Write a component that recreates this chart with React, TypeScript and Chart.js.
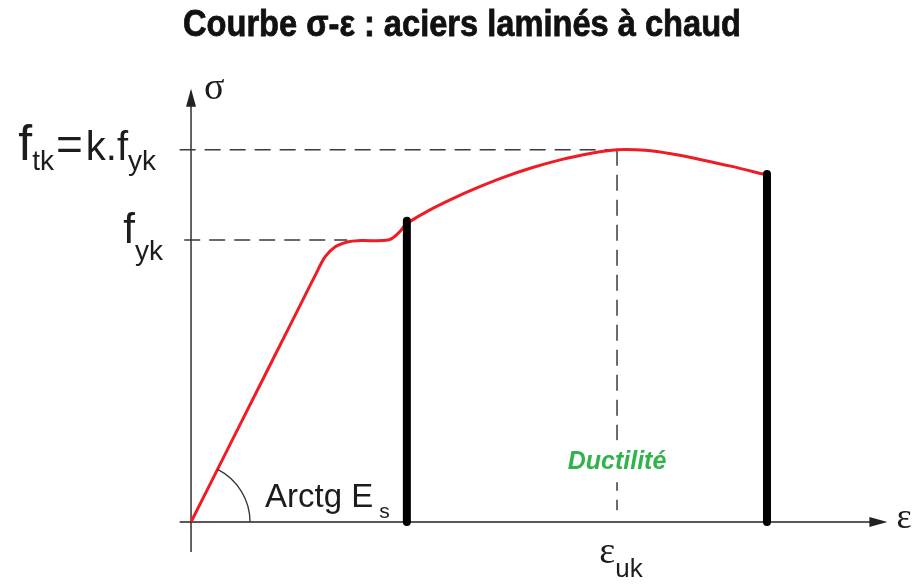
import React, { useEffect, useRef } from "react";
import { Chart, registerables } from "chart.js";

Chart.register(...registerables);

// ---------- data ----------
const TITLE = "Courbe σ-ε : aciers laminés à chaud";
const AXIS_X_LABEL = "ε";
const AXIS_Y_LABEL = "σ";
const DUCTILITY_LABEL = "Ductilité";

// characteristic values (ε in ‰-like units, σ in MPa-like units)
const EPS_UK = 75;
const F_YK = 500;
const F_TK = 660;

// ductility bars: strain position and top stress
const barEps = [38, 101.4];
const barTop = [534, 617];

// red σ-ε curve
const curveEps = [0, 5, 10, 15, 20, 21.8, 23.6, 25.4, 27.7, 29.8, 34.7, 36.5, 38, 42, 46, 50, 55, 60, 65, 70, 75, 80, 85, 90, 95, 101.4];
const curveSig = [0, 100, 200, 300, 400, 436, 470, 488, 497, 499, 500, 512, 529, 553, 573, 591, 611, 628, 642, 653, 660, 659, 652, 642, 631, 615];

// axes extents (data units)
const X_AXIS_FROM = -2;
const X_AXIS_TO = 122.6;
const Y_AXIS_FROM = -53;
const Y_AXIS_TO = 768;

// ---------- view ----------
const X_MIN = -33.63;
const X_MAX = 127.46;
const Y_MIN = -109.93;
const Y_MAX = 925.53;

const SANS = '"Liberation Sans", Arial, sans-serif';
const SERIF = '"Liberation Serif", "Times New Roman", serif';
const TEXT = "#1c1c1c";

type Piece = { t: string; size: number; family?: string; dy?: number; gap?: number; weight?: string };

function drawRich(ctx: CanvasRenderingContext2D, pieces: Piece[], x: number, y: number, align: "left" | "right" | "center") {
  const widths = pieces.map((p) => {
    ctx.font = `${p.weight || "normal"} ${p.size}px ${p.family || SANS}`;
    return ctx.measureText(p.t).width + (p.gap || 0);
  });
  const total = widths.reduce((a, b) => a + b, 0);
  let cx = align === "left" ? x : align === "right" ? x - total : x - total / 2;
  ctx.textAlign = "left";
  ctx.textBaseline = "alphabetic";
  pieces.forEach((p, i) => {
    ctx.font = `${p.weight || "normal"} ${p.size}px ${p.family || SANS}`;
    ctx.fillText(p.t, cx + (p.gap || 0), y + (p.dy || 0));
    cx += widths[i];
  });
}

const annotPlugin = {
  id: "annot",
  afterDatasetsDraw(chart: any) {
    const { ctx, scales } = chart;
    const xs = scales.x;
    const ys = scales.y;
    const px = (v: number) => xs.getPixelForValue(v);
    const py = (v: number) => ys.getPixelForValue(v);
    const ox = px(0);
    const oy = py(0);
    ctx.save();

    // arrowheads
    ctx.fillStyle = "#222";
    const yt = py(Y_AXIS_TO);
    ctx.beginPath();
    ctx.moveTo(ox, yt);
    ctx.lineTo(ox - 5, yt + 18);
    ctx.lineTo(ox + 5, yt + 18);
    ctx.closePath();
    ctx.fill();
    const xt = px(X_AXIS_TO);
    ctx.beginPath();
    ctx.moveTo(xt, oy);
    ctx.lineTo(xt - 18, oy - 5);
    ctx.lineTo(xt - 18, oy + 5);
    ctx.closePath();
    ctx.fill();

    // angle arc (Arctg Es)
    const ang = Math.atan2(py(curveSig[4]) - oy, px(curveEps[4]) - ox);
    ctx.strokeStyle = "#333";
    ctx.lineWidth = 1.3;
    ctx.beginPath();
    ctx.arc(ox, oy, 59, ang, 0);
    ctx.stroke();

    ctx.fillStyle = TEXT;
    // axis labels
    ctx.font = `38px ${SERIF}`;
    ctx.textAlign = "left";
    ctx.textBaseline = "alphabetic";
    ctx.fillText(AXIS_Y_LABEL, ox + 13, yt + 10);
    ctx.font = `36px ${SERIF}`;
    ctx.fillText(AXIS_X_LABEL, xt + 9, oy + 6);

    // ftk = k.fyk
    drawRich(
      ctx,
      [
        { t: "f", size: 50 },
        { t: "tk", size: 28, dy: 10 },
        { t: "=", size: 46, gap: 2 },
        { t: "k.f", size: 40, gap: 3 },
        { t: "yk", size: 28, dy: 10 },
      ],
      156,
      py(F_TK) + 10,
      "right"
    );
    // fyk
    drawRich(
      ctx,
      [
        { t: "f", size: 42 },
        { t: "yk", size: 28, dy: 17 },
      ],
      163,
      py(F_YK) + 3,
      "right"
    );

    // Arctg Es
    drawRich(
      ctx,
      [
        { t: "Arctg E", size: 33 },
        { t: "s", size: 21, dy: 11, gap: 6 },
      ],
      ox + 74,
      oy - 15,
      "left"
    );

    // εuk
    drawRich(
      ctx,
      [
        { t: "ε", size: 38, family: SERIF },
        { t: "uk", size: 26, dy: 14 },
      ],
      px(EPS_UK) + 4,
      oy + 41,
      "center"
    );

    // Ductilité
    const dx = px(EPS_UK);
    const dyc = py(106);
    ctx.fillStyle = "#ffffff";
    ctx.fillRect(dx - 55, dyc - 22, 110, 42);
    ctx.fillStyle = "#2fb34b";
    ctx.font = `italic bold 25px ${SANS}`;
    ctx.textAlign = "center";
    ctx.textBaseline = "middle";
    ctx.fillText(DUCTILITY_LABEL, dx, dyc);

    // Title
    ctx.fillStyle = "#111";
    ctx.font = `bold 37px "Liberation Sans Narrow", ${SANS}`;
    ctx.textAlign = "left";
    ctx.textBaseline = "alphabetic";
    const tw = ctx.measureText(TITLE).width;
    const target = 558;
    ctx.translate(183, 36);
    ctx.scale(target / tw, 1);
    ctx.lineWidth = 0.8;
    ctx.strokeStyle = "#111";
    ctx.strokeText(TITLE, 0, 0);
    ctx.fillText(TITLE, 0, 0);

    ctx.restore();
  },
};

export default function App() {
  const ref = useRef<HTMLCanvasElement>(null);

  useEffect(() => {
    const curve = curveEps.map((e, i) => ({ x: e, y: curveSig[i] }));
    const bars = barEps.map((e, i) => ({
      type: "line" as const,
      data: [
        { x: e, y: 0 },
        { x: e, y: barTop[i] },
      ],
      borderColor: "#000",
      borderWidth: 8,
      borderCapStyle: "round" as const,
      pointRadius: 0,
      order: 0,
    }));
    const dashed = {
      borderColor: "#3a3a3a",
      borderWidth: 1.5,
      borderDash: [16, 9],
      pointRadius: 0,
      order: 3,
    };
    const chart = new Chart(ref.current as HTMLCanvasElement, {
      type: "scatter",
      data: {
        datasets: [
          ...bars,
          {
            type: "line",
            data: curve,
            borderColor: "#ee1c25",
            borderWidth: 3,
            pointRadius: 0,
            tension: 0.35,
            order: 1,
          },
          {
            type: "line",
            data: [
              { x: X_AXIS_FROM, y: F_TK },
              { x: EPS_UK, y: F_TK },
            ],
            ...dashed,
          },
          {
            type: "line",
            data: [
              { x: -1.2, y: F_YK },
              { x: 27.5, y: F_YK },
            ],
            ...dashed,
          },
          {
            type: "line",
            data: [
              { x: EPS_UK, y: F_TK },
              { x: EPS_UK, y: 21 },
            ],
            ...dashed,
          },
          {
            type: "line",
            data: [
              { x: X_AXIS_FROM, y: 0 },
              { x: X_AXIS_TO - 1, y: 0 },
            ],
            borderColor: "#222",
            borderWidth: 1.4,
            pointRadius: 0,
            order: 4,
          },
          {
            type: "line",
            data: [
              { x: 0, y: Y_AXIS_FROM },
              { x: 0, y: Y_AXIS_TO - 5 },
            ],
            borderColor: "#222",
            borderWidth: 1.4,
            pointRadius: 0,
            order: 4,
          },
        ] as any,
      },
      options: {
        responsive: false,
        animation: false,
        layout: { padding: 0 },
        plugins: {
          legend: { display: false },
          tooltip: { enabled: false },
          title: { display: false },
        },
        scales: {
          x: { type: "linear", min: X_MIN, max: X_MAX, display: false },
          y: { type: "linear", min: Y_MIN, max: Y_MAX, display: false },
        },
      },
      plugins: [annotPlugin],
    });
    return () => chart.destroy();
  }, []);

  return (
    <div style={{ position: "absolute", left: 0, top: 0, width: 915, height: 584, background: "#fff" }}>
      <canvas ref={ref} width={915} height={584} style={{ display: "block" }} />
    </div>
  );
}
